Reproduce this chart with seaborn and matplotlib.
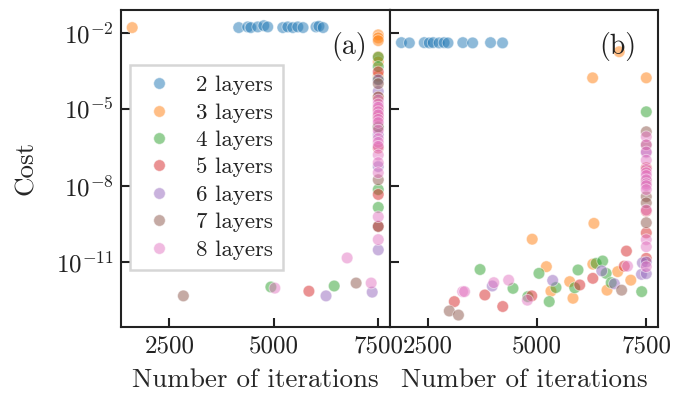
import matplotlib
matplotlib.use("Agg")
import matplotlib.pyplot as plt
import numpy as np
import pandas as pd
import seaborn as sns
from matplotlib.ticker import NullLocator

LAYERS = ["2 layers", "3 layers", "4 layers", "5 layers", "6 layers", "7 layers", "8 layers"]

# ---- panel (a): iterations and final cost per run ----
a2_x = [4160, 4375, 4450, 4615, 4760, 4855, 5215, 5335, 5455, 5575, 5700, 6010, 6080, 6180]
a2_cost = [0.016, 0.017, 0.016, 0.017, 0.019, 0.017, 0.016, 0.017, 0.016, 0.017, 0.016, 0.017, 0.018, 0.016]
a3_x = [1610, 7500, 7500, 7500, 7500, 7500, 7500, 7500]
a3_cost = [0.016, 8.3e-3, 6.3e-3, 4.9e-3, 1.15e-3, 7.2e-4, 2e-4, 3e-5]
a4_x = [4930, 6445, 7500, 7500, 7500, 7500, 7500, 7500]
a4_cost = [1.05e-12, 1.15e-12, 1.1e-3, 4.7e-4, 1.5e-4, 2e-6, 7e-9, 1.4e-9]
a5_x = [5840, 7500, 7500, 7500, 7500, 7500, 7500]
a5_cost = [7.2e-13, 2.9e-4, 1e-5, 5e-6, 3e-7, 4.5e-9, 2.5e-10]
a6_x = [6250, 7355, 7500, 7500, 7500, 7500, 7500]
a6_cost = [4.7e-13, 6.6e-13, 1.4e-4, 5e-5, 1e-6, 5.6e-8, 3e-11]
a7_x = [2835, 6970, 7500, 7500, 7500, 7500, 7500]
a7_cost = [4.7e-13, 1.5e-12, 1e-4, 3e-5, 2e-6, 1.7e-8, 2.5e-10]
a8_x = [5025, 6755, 7330, 7500, 7500, 7500, 7500, 7500, 7500, 7500, 7500, 7500, 7500, 7500,
        7500, 7500, 7500, 7500, 7500]
a8_cost = [9.5e-13, 1.45e-11, 1.5e-12, 2.3e-5, 1.6e-5, 1.2e-5, 8e-6, 6e-6, 4e-6, 3e-6, 1.5e-6,
           7e-7, 5e-7, 3.5e-7, 1.6e-7, 8e-8, 3.2e-8, 6e-10, 7.6e-11]

# ---- panel (b) ----
b2_x = [1887, 2070, 2410, 2525, 2615, 2750, 2865, 2955, 3295, 3520, 3930, 4205]
b2_cost = [4.1e-3, 4.0e-3, 4.1e-3, 4.0e-3, 4.1e-3, 4.0e-3, 4.1e-3, 4.0e-3, 4.1e-3, 4.0e-3, 4.1e-3, 4.0e-3]
b3_x = [4885, 6300, 5210, 5315, 5745, 5820, 6275, 6600, 6845, 7145, 6880, 6270, 7500]
b3_cost = [7.9e-11, 3.3e-10, 6.6e-12, 7.2e-13, 1.7e-12, 3.8e-13, 8.3e-12, 7.9e-13, 4.2e-12,
           1.95e-12, 1.8e-3, 1.7e-4, 1.7e-4]
b4_x = [3690, 4445, 4785, 5040, 5275, 5430, 5860, 5935, 6350, 6500, 6580, 6695, 7395, 7500]
b4_cost = [5.1e-12, 9.3e-13, 4.4e-13, 3.6e-12, 2.8e-13, 1.0e-12, 9.8e-13, 4.9e-12, 8.9e-12,
           1.1e-11, 3.6e-12, 1.55e-12, 6.9e-13, 7.9e-6]
b5_x = [3100, 3800, 4210, 4875, 5975, 6275, 6995, 7045, 7500, 7500, 7500, 7500]
b5_cost = [2.8e-13, 5.1e-13, 1.8e-13, 4.7e-13, 1.26e-12, 2.3e-12, 6.9e-12, 2.7e-11,
           1.4e-11, 1.4e-10, 1e-9, 5e-8]
b6_x = [3970, 5355, 6480, 6770, 7390, 7410, 7500, 7500, 7500]
b6_cost = [1.15e-12, 1.9e-12, 4.5e-12, 1.4e-12, 3.3e-12, 9.3e-12, 1e-11, 3.5e-12, 2e-7]
b7_x = [2985, 3195, 6935, 7500, 7500, 7500, 7500, 7500, 7500]
b7_cost = [1.2e-13, 8.3e-14, 7.9e-13, 1.3e-6, 4e-7, 1.5e-8, 3.7e-9, 2.1e-9, 3.5e-10]
b8_x = [3290, 3335, 4005, 4345, 4775, 7070, 7500, 7500, 7500, 7500, 7500, 7500, 7500,
        7500, 7500, 7500, 7500, 7500, 7500, 7500, 7500]
b8_cost = [6.9e-13, 6.9e-13, 1.55e-12, 1.95e-12, 3.2e-13, 6.9e-12, 8.3e-7, 4e-7, 2.1e-7,
           1e-7, 4.3e-8, 3.2e-8, 2.5e-8, 1.7e-8, 1.2e-8, 1e-8, 7e-9, 1.1e-9, 7.6e-11, 4e-11, 6.6e-12]

Y_TICKS = [1e-2, 1e-5, 1e-8, 1e-11]
X_TICKS = [2500, 5000, 7500]


def frame(series):
    parts = []
    for label, (xs, cs) in zip(LAYERS, series):
        parts.append(pd.DataFrame({"iterations": xs, "cost": cs, "layers": label}))
    return pd.concat(parts, ignore_index=True)


df_a = frame([(a2_x, a2_cost), (a3_x, a3_cost), (a4_x, a4_cost), (a5_x, a5_cost),
              (a6_x, a6_cost), (a7_x, a7_cost), (a8_x, a8_cost)])
df_b = frame([(b2_x, b2_cost), (b3_x, b3_cost), (b4_x, b4_cost), (b5_x, b5_cost),
              (b6_x, b6_cost), (b7_x, b7_cost), (b8_x, b8_cost)])

sns.set_theme(style="ticks")
plt.rcParams.update({
    "font.family": ["cmr10", "DejaVu Serif"],
    "mathtext.fontset": "cm",
    "axes.formatter.use_mathtext": True,
    "axes.unicode_minus": True,
    "axes.edgecolor": "#222222",
    "axes.linewidth": 1.5,
    "text.color": "#222222",
    "xtick.color": "#222222",
    "ytick.color": "#222222",
    "xtick.direction": "in",
    "ytick.direction": "in",
    "xtick.major.size": 6.5,
    "ytick.major.size": 6.5,
    "xtick.major.width": 1.5,
    "ytick.major.width": 1.5,
    "xtick.major.pad": 6,
    "ytick.major.pad": 5,
    "xtick.labelsize": 18,
    "ytick.labelsize": 18,
    "axes.labelsize": 19.5,
})

palette = dict(zip(LAYERS, sns.color_palette("tab10", 7)))

fig, (ax_a, ax_b) = plt.subplots(1, 2, figsize=(6.87, 3.94), dpi=100, sharey=True)
fig.subplots_adjust(left=0.176, right=0.958, top=0.975, bottom=0.170, wspace=0)

sns.scatterplot(data=df_a, x="iterations", y="cost", hue="layers", hue_order=LAYERS,
                palette=palette, s=70, alpha=0.5, ax=ax_a)
sns.scatterplot(data=df_b, x="iterations", y="cost", hue="layers", hue_order=LAYERS,
                palette=palette, s=70, alpha=0.5, ax=ax_b, legend=False)

for ax, lim, tag in [(ax_a, (1340, 7770), "(a)"), (ax_b, (1615, 7772), "(b)")]:
    ax.set_yscale("log")
    ax.set_xlim(*lim)
    ax.set_xticks(X_TICKS)
    ax.set_xticklabels([str(t) for t in X_TICKS])
    ax.set_xlabel("Number of iterations", labelpad=8)
    ax.text(0.85, 0.885, tag, transform=ax.transAxes, ha="center", va="center", fontsize=20)
    for side in ["top", "right"]:
        ax.spines[side].set_visible(True)

ax_a.set_ylim(10 ** -13.55, 10 ** -1.1)
ax_a.set_yticks(Y_TICKS)
ax_a.yaxis.set_minor_locator(NullLocator())
ax_a.set_ylabel("Cost", labelpad=13)
ax_b.set_ylabel("")
ax_b.tick_params(axis="y", labelleft=False)

leg = ax_a.legend(loc="lower left", bbox_to_anchor=(0.035, 0.18), borderaxespad=0,
                  fontsize=16.5, frameon=True, fancybox=False, handletextpad=0.8,
                  handlelength=1.6, labelspacing=0.32, borderpad=0.45, markerscale=1.0)
leg.get_frame().set_edgecolor("#cccccc")
leg.get_frame().set_linewidth(1.8)

fig.savefig("out.png", dpi=100)
